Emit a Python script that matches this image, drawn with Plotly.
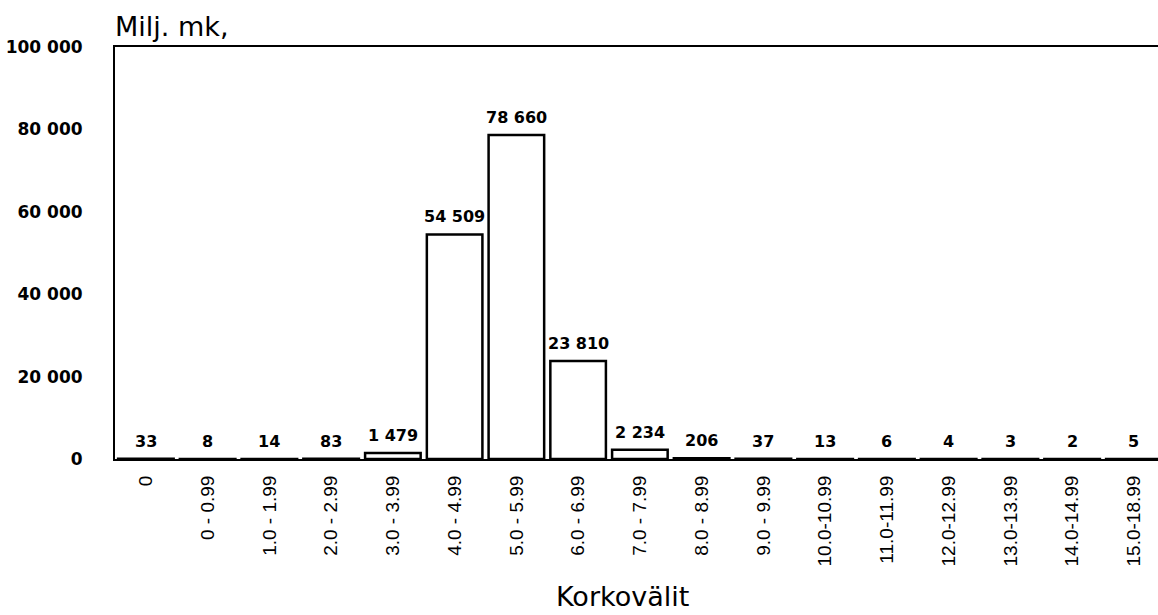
import plotly.graph_objects as go

categories = ["0", "0 - 0.99", "1.0 - 1.99", "2.0 - 2.99", "3.0 - 3.99", "4.0 - 4.99",
              "5.0 - 5.99", "6.0 - 6.99", "7.0 - 7.99", "8.0 - 8.99", "9.0 - 9.99",
              "10.0-10.99", "11.0-11.99", "12.0-12.99", "13.0-13.99", "14.0-14.99", "15.0-18.99"]
values = [33, 8, 14, 83, 1479, 54509, 78660, 23810, 2234, 206, 37, 13, 6, 4, 3, 2, 5]
y_tickvals = [0, 20000, 40000, 60000, 80000, 100000]
y_ticktext = ["0", "20 000", "40 000", "60 000", "80 000", "100 000"]
y_title = "Milj. mk,"
x_title = "Korkovälit"


def fmt(v):
    return f"{v:,}".replace(",", " ")


W, H = 1158, 615
ml, mr, mt, mb = 115, 0, 47, 156
pw, ph = W - ml - mr, H - mt - mb

fig = go.Figure()
fig.add_trace(go.Bar(
    x=categories, y=values,
    marker=dict(color="white", line=dict(color="black", width=2.5)),
    hoverinfo="x+y",
))

for c, v in zip(categories, values):
    fig.add_annotation(
        x=c, y=v, xref="x", yref="y", text=fmt(v), showarrow=False,
        yanchor="bottom", yshift=6,
        font=dict(family="DejaVu Sans", size=16, color="black", weight="bold"),
    )

# title annotations positioned in pixels (converted to paper coords)
fig.add_annotation(x=(113 - ml) / pw, y=((H - 44) - mb) / ph, xref="paper", yref="paper",
                   text=y_title, showarrow=False, xanchor="left", yanchor="bottom",
                   font=dict(family="DejaVu Sans", size=27, color="black"))
fig.add_annotation(x=(622 - ml) / pw, y=(1 - mb) / ph, xref="paper", yref="paper",
                   text=x_title, showarrow=False, xanchor="center", yanchor="bottom",
                   font=dict(family="DejaVu Sans", size=27, color="black"))

step = 61.75
fig.update_layout(
    width=W, height=H,
    margin=dict(l=ml, r=mr, t=mt, b=mb, pad=0),
    plot_bgcolor="white", paper_bgcolor="white",
    bargap=0.1,
    showlegend=False,
    xaxis=dict(
        type="category", automargin=False,
        range=[-0.5, -0.5 + pw / step],
        showline=True, linecolor="black", linewidth=2, mirror=True,
        ticks="", tickangle=-90, ticklabelstandoff=7,
        tickfont=dict(family="Liberation Sans", size=19, color="black"),
        showgrid=False, zeroline=False,
    ),
    yaxis=dict(
        range=[0, 100000], automargin=False,
        tickvals=y_tickvals, ticktext=y_ticktext,
        showline=True, linecolor="black", linewidth=2,
        ticks="", ticklabelstandoff=27,
        tickfont=dict(family="DejaVu Sans", size=17, color="black", weight="bold"),
        showgrid=False, zeroline=False,
    ),
)

fig.write_html(
    "out.html",
    config={"displayModeBar": False},
    post_script="document.body.style.margin='0';document.body.style.overflow='hidden';",
)
